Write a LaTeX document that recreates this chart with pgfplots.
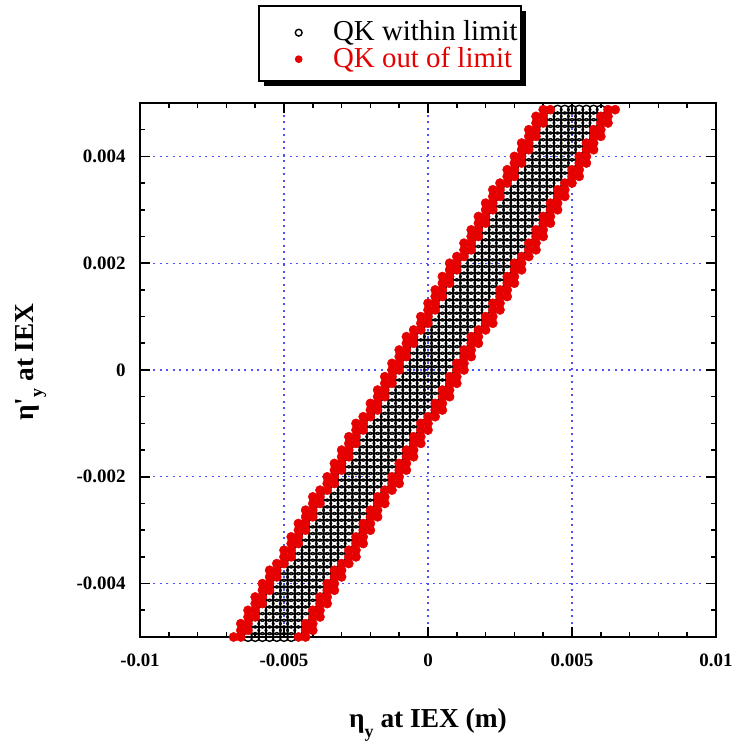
\documentclass[border=0pt]{standalone}
\usepackage{fontspec}
\setmainfont{Liberation Serif}
\usepackage{pgfplots}
\pgfplotsset{compat=1.18}
\usepackage{pgfplotstable}
\usetikzlibrary{shadows}
\definecolor{ptred}{RGB}{230,0,0}
\definecolor{gridblue}{RGB}{80,80,255}

% scan rows in mm: y, then x of each point (a,b,j,k out of limit; c..i within)
\pgfplotstableread{
y a b c d e f g h i j k
-5 -6.75 -6.5 -6.25 -6 -5.75 -5.5 -5.25 -5 -4.75 -4.5 -4.25
-4.875 -6.5 -6.25 -6 -5.75 -5.5 -5.25 -5 -4.75 -4.5 -4.25 -4
-4.75 -6.5 -6.25 -6 -5.75 -5.5 -5.25 -5 -4.75 -4.5 -4.25 -4
-4.625 -6.25 -6 -5.75 -5.5 -5.25 -5 -4.75 -4.5 -4.25 -4 -3.75
-4.5 -6.25 -6 -5.75 -5.5 -5.25 -5 -4.75 -4.5 -4.25 -4 -3.75
-4.375 -6 -5.75 -5.5 -5.25 -5 -4.75 -4.5 -4.25 -4 -3.75 -3.5
-4.25 -6 -5.75 -5.5 -5.25 -5 -4.75 -4.5 -4.25 -4 -3.75 -3.5
-4.125 -5.75 -5.5 -5.25 -5 -4.75 -4.5 -4.25 -4 -3.75 -3.5 -3.25
-4 -5.75 -5.5 -5.25 -5 -4.75 -4.5 -4.25 -4 -3.75 -3.5 -3.25
-3.875 -5.5 -5.25 -5 -4.75 -4.5 -4.25 -4 -3.75 -3.5 -3.25 -3
-3.75 -5.5 -5.25 -5 -4.75 -4.5 -4.25 -4 -3.75 -3.5 -3.25 -3
-3.625 -5.25 -5 -4.75 -4.5 -4.25 -4 -3.75 -3.5 -3.25 -3 -2.75
-3.5 -5 -4.75 -4.5 -4.25 -4 -3.75 -3.5 -3.25 -3 -2.75 -2.5
-3.375 -5 -4.75 -4.5 -4.25 -4 -3.75 -3.5 -3.25 -3 -2.75 -2.5
-3.25 -4.75 -4.5 -4.25 -4 -3.75 -3.5 -3.25 -3 -2.75 -2.5 -2.25
-3.125 -4.75 -4.5 -4.25 -4 -3.75 -3.5 -3.25 -3 -2.75 -2.5 -2.25
-3 -4.5 -4.25 -4 -3.75 -3.5 -3.25 -3 -2.75 -2.5 -2.25 -2
-2.875 -4.5 -4.25 -4 -3.75 -3.5 -3.25 -3 -2.75 -2.5 -2.25 -2
-2.75 -4.25 -4 -3.75 -3.5 -3.25 -3 -2.75 -2.5 -2.25 -2 -1.75
-2.625 -4.25 -4 -3.75 -3.5 -3.25 -3 -2.75 -2.5 -2.25 -2 -1.75
-2.5 -4 -3.75 -3.5 -3.25 -3 -2.75 -2.5 -2.25 -2 -1.75 -1.5
-2.375 -4 -3.75 -3.5 -3.25 -3 -2.75 -2.5 -2.25 -2 -1.75 -1.5
-2.25 -3.75 -3.5 -3.25 -3 -2.75 -2.5 -2.25 -2 -1.75 -1.5 -1.25
-2.125 -3.5 -3.25 -3 -2.75 -2.5 -2.25 -2 -1.75 -1.5 -1.25 -1
-2 -3.5 -3.25 -3 -2.75 -2.5 -2.25 -2 -1.75 -1.5 -1.25 -1
-1.875 -3.25 -3 -2.75 -2.5 -2.25 -2 -1.75 -1.5 -1.25 -1 -0.75
-1.75 -3.25 -3 -2.75 -2.5 -2.25 -2 -1.75 -1.5 -1.25 -1 -0.75
-1.625 -3 -2.75 -2.5 -2.25 -2 -1.75 -1.5 -1.25 -1 -0.75 -0.5
-1.5 -3 -2.75 -2.5 -2.25 -2 -1.75 -1.5 -1.25 -1 -0.75 -0.5
-1.375 -2.75 -2.5 -2.25 -2 -1.75 -1.5 -1.25 -1 -0.75 -0.5 -0.25
-1.25 -2.75 -2.5 -2.25 -2 -1.75 -1.5 -1.25 -1 -0.75 -0.5 -0.25
-1.125 -2.5 -2.25 -2 -1.75 -1.5 -1.25 -1 -0.75 -0.5 -0.25 0
-1 -2.5 -2.25 -2 -1.75 -1.5 -1.25 -1 -0.75 -0.5 -0.25 0
-0.875 -2.25 -2 -1.75 -1.5 -1.25 -1 -0.75 -0.5 -0.25 0 0.25
-0.75 -2 -1.75 -1.5 -1.25 -1 -0.75 -0.5 -0.25 0 0.25 0.5
-0.625 -2 -1.75 -1.5 -1.25 -1 -0.75 -0.5 -0.25 0 0.25 0.5
-0.5 -1.75 -1.5 -1.25 -1 -0.75 -0.5 -0.25 0 0.25 0.5 0.75
-0.375 -1.75 -1.5 -1.25 -1 -0.75 -0.5 -0.25 0 0.25 0.5 0.75
-0.25 -1.5 -1.25 -1 -0.75 -0.5 -0.25 0 0.25 0.5 0.75 1
-0.125 -1.5 -1.25 -1 -0.75 -0.5 -0.25 0 0.25 0.5 0.75 1
0 -1.25 -1 -0.75 -0.5 -0.25 0 0.25 0.5 0.75 1 1.25
0.125 -1.25 -1 -0.75 -0.5 -0.25 0 0.25 0.5 0.75 1 1.25
0.25 -1 -0.75 -0.5 -0.25 0 0.25 0.5 0.75 1 1.25 1.5
0.375 -1 -0.75 -0.5 -0.25 0 0.25 0.5 0.75 1 1.25 1.5
0.5 -0.75 -0.5 -0.25 0 0.25 0.5 0.75 1 1.25 1.5 1.75
0.625 -0.75 -0.5 -0.25 0 0.25 0.5 0.75 1 1.25 1.5 1.75
0.75 -0.5 -0.25 0 0.25 0.5 0.75 1 1.25 1.5 1.75 2
0.875 -0.25 0 0.25 0.5 0.75 1 1.25 1.5 1.75 2 2.25
1 -0.25 0 0.25 0.5 0.75 1 1.25 1.5 1.75 2 2.25
1.125 0 0.25 0.5 0.75 1 1.25 1.5 1.75 2 2.25 2.5
1.25 0 0.25 0.5 0.75 1 1.25 1.5 1.75 2 2.25 2.5
1.375 0.25 0.5 0.75 1 1.25 1.5 1.75 2 2.25 2.5 2.75
1.5 0.25 0.5 0.75 1 1.25 1.5 1.75 2 2.25 2.5 2.75
1.625 0.5 0.75 1 1.25 1.5 1.75 2 2.25 2.5 2.75 3
1.75 0.5 0.75 1 1.25 1.5 1.75 2 2.25 2.5 2.75 3
1.875 0.75 1 1.25 1.5 1.75 2 2.25 2.5 2.75 3 3.25
2 0.75 1 1.25 1.5 1.75 2 2.25 2.5 2.75 3 3.25
2.125 1 1.25 1.5 1.75 2 2.25 2.5 2.75 3 3.25 3.5
2.25 1.25 1.5 1.75 2 2.25 2.5 2.75 3 3.25 3.5 3.75
2.375 1.25 1.5 1.75 2 2.25 2.5 2.75 3 3.25 3.5 3.75
2.5 1.5 1.75 2 2.25 2.5 2.75 3 3.25 3.5 3.75 4
2.625 1.5 1.75 2 2.25 2.5 2.75 3 3.25 3.5 3.75 4
2.75 1.75 2 2.25 2.5 2.75 3 3.25 3.5 3.75 4 4.25
2.875 1.75 2 2.25 2.5 2.75 3 3.25 3.5 3.75 4 4.25
3 2 2.25 2.5 2.75 3 3.25 3.5 3.75 4 4.25 4.5
3.125 2 2.25 2.5 2.75 3 3.25 3.5 3.75 4 4.25 4.5
3.25 2.25 2.5 2.75 3 3.25 3.5 3.75 4 4.25 4.5 4.75
3.375 2.25 2.5 2.75 3 3.25 3.5 3.75 4 4.25 4.5 4.75
3.5 2.5 2.75 3 3.25 3.5 3.75 4 4.25 4.5 4.75 5
3.625 2.75 3 3.25 3.5 3.75 4 4.25 4.5 4.75 5 5.25
3.75 2.75 3 3.25 3.5 3.75 4 4.25 4.5 4.75 5 5.25
3.875 3 3.25 3.5 3.75 4 4.25 4.5 4.75 5 5.25 5.5
4 3 3.25 3.5 3.75 4 4.25 4.5 4.75 5 5.25 5.5
4.125 3.25 3.5 3.75 4 4.25 4.5 4.75 5 5.25 5.5 5.75
4.25 3.25 3.5 3.75 4 4.25 4.5 4.75 5 5.25 5.5 5.75
4.375 3.5 3.75 4 4.25 4.5 4.75 5 5.25 5.5 5.75 6
4.5 3.5 3.75 4 4.25 4.5 4.75 5 5.25 5.5 5.75 6
4.625 3.75 4 4.25 4.5 4.75 5 5.25 5.5 5.75 6 6.25
4.75 3.75 4 4.25 4.5 4.75 5 5.25 5.5 5.75 6 6.25
4.875 4 4.25 4.5 4.75 5 5.25 5.5 5.75 6 6.25 6.5
}\band

\pgfplotsset{
  within/.style={only marks, mark=o, mark size=4.4bp, black, mark options={line width=1.4bp}},
  outside/.style={only marks, mark=*, mark size=4.6bp, ptred, mark options={draw=none, fill=ptred}},
}

\begin{document}
\begin{tikzpicture}
\begin{axis}[name=ax, scale only axis, width=576bp, height=534bp,
  xmin=-10, xmax=10, ymin=-5, ymax=5, clip=false,
  xtick={-10,-5,0,5,10}, xticklabels={-0.01,-0.005,0,0.005,0.01},
  ytick={-4,-2,0,2,4}, yticklabels={-0.004,-0.002,0,0.002,0.004},
  minor xtick={-9,-8,...,9}, minor ytick={-4.5,-4,...,4.5},
  tick align=inside, xtick pos=both, ytick pos=both,
  major tick length=10bp, minor tick length=5bp,
  tick style={black, line width=1.6bp},
  axis line style={line width=2.6bp},
  grid=major, major grid style={gridblue, line width=1.2bp, dash pattern=on 2bp off 4.5bp},
  tick label style={font=\fontsize{19}{19}\selectfont\bfseries},
  xticklabel style={yshift=-13bp},
  yticklabel style={xshift=-11bp},
  label style={font=\fontsize{27.5}{27.5}\selectfont\bfseries},
  xlabel={η\raisebox{-0.33em}{\fontsize{18}{18}\selectfont y} at IEX (m)},
  ylabel={η\textquotesingle\raisebox{-0.33em}{\fontsize{18}{18}\selectfont y} at IEX},
  xlabel style={at={(axis description cs:0.5,-0.1704)}, anchor=base},
  ylabel style={at={(axis description cs:-0.185,0.515)}, anchor=base},
  legend style={at={(axis description cs:0.2054,1.0399)}, anchor=south west,
    draw=black, line width=2bp, fill=white, inner xsep=3bp, inner ysep=11bp,
    font=\fontsize{29}{29}\selectfont, column sep=24bp, row sep=0pt,
    nodes={inner sep=0pt, text height=24bp, text depth=2.5bp, anchor=base west},
    drop shadow={shadow xshift=5bp, shadow yshift=-5bp, fill=black, opacity=1}},
  legend cell align=left,
  legend image code/.code={\path (-36bp,0bp) (10bp,0bp); \draw[#1] plot coordinates {(0bp,8bp)};},
  legend image post style={mark size=3.4bp, line width=0.8bp},
]
\addplot[within] table[x=c, y=y] {\band};
\addlegendentry{QK within limit}
\addplot[within, forget plot] table[x=d, y=y] {\band};
\addplot[within, forget plot] table[x=e, y=y] {\band};
\addplot[within, forget plot] table[x=f, y=y] {\band};
\addplot[within, forget plot] table[x=g, y=y] {\band};
\addplot[within, forget plot] table[x=h, y=y] {\band};
\addplot[within, forget plot] table[x=i, y=y] {\band};
\addplot[outside] table[x=a, y=y] {\band};
\addlegendentry{\textcolor{ptred}{QK out of limit}}
\addplot[outside, forget plot] table[x=b, y=y] {\band};
\addplot[outside, forget plot] table[x=j, y=y] {\band};
\addplot[outside, forget plot] table[x=k, y=y] {\band};
\end{axis}
\pgfresetboundingbox
\path ([xshift=-140bp,yshift=-104bp]ax.south west) rectangle ([xshift=18bp,yshift=103bp]ax.north east);
\end{tikzpicture}
\end{document}
